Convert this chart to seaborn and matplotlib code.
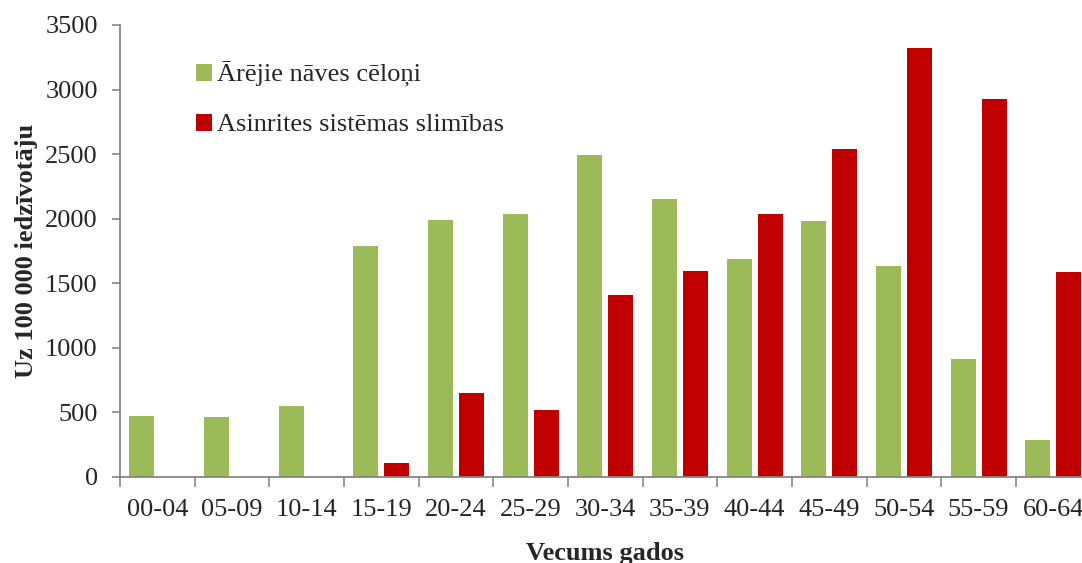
import numpy as np
import pandas as pd
import matplotlib
matplotlib.use("Agg")
import matplotlib.pyplot as plt
import seaborn as sns
from matplotlib.ticker import FixedLocator, NullFormatter

# Age groups and death rates per 100 000 inhabitants
age_groups = ["00-04", "05-09", "10-14", "15-19", "20-24", "25-29", "30-34",
              "35-39", "40-44", "45-49", "50-54", "55-59", "60-64"]
external_causes = [470, 465, 550, 1785, 1990, 2035, 2490, 2150, 1685, 1985, 1635, 910, 290]
circulatory = [0, 0, 0, 110, 650, 520, 1410, 1595, 2040, 2540, 3320, 2925, 1585]
series_names = ["Ārējie nāves cēloņi", "Asinrites sistēmas slimības"]
colors = ["#9BBB59", "#C00000"]
y_ticks = [0, 500, 1000, 1500, 2000, 2500, 3000, 3500]

df = pd.DataFrame({
    "group": age_groups * 2,
    "value": external_causes + circulatory,
    "series": [series_names[0]] * len(age_groups) + [series_names[1]] * len(age_groups),
})

sns.set_theme(style="white")
plt.rcParams["font.family"] = ["Liberation Serif", "DejaVu Serif"]

fig = plt.figure(figsize=(10.82, 5.63), dpi=100)
ax = fig.add_axes([0.1109, 0.1528, 0.897, 0.8028])

sns.barplot(data=df, x="group", y="value", hue="series", order=age_groups,
            hue_order=series_names, palette=colors, saturation=1,
            width=0.832, gap=0.195, linewidth=0, ax=ax, legend=True)

ax.set_ylim(0, 3500)
ax.set_xlim(-0.5, len(age_groups) - 0.5)
ax.set_yticks(y_ticks)
ax.set_yticklabels([str(t) for t in y_ticks], fontsize=19)

# category labels centred, tick marks on category boundaries
ax.xaxis.set_major_locator(FixedLocator(np.arange(-0.5, len(age_groups), 1.0)))
ax.xaxis.set_major_formatter(NullFormatter())
ax.xaxis.set_minor_locator(FixedLocator(np.arange(len(age_groups))))
ax.set_xticklabels(age_groups, minor=True, fontsize=19)
ax.tick_params(axis="x", which="major", direction="out", length=7, width=1.2,
               color="#868686", bottom=True)
ax.tick_params(axis="x", which="minor", length=0, pad=16, bottom=True)
ax.tick_params(axis="y", direction="out", length=6, width=1.2, color="#868686",
               pad=10, left=True)

for side in ["top", "right"]:
    ax.spines[side].set_visible(False)
for side in ["left", "bottom"]:
    ax.spines[side].set_color("#868686")
    ax.spines[side].set_linewidth(1.3)

ax.set_xlabel("Vecums gados", fontsize=19, fontweight="bold", labelpad=15)
ax.set_ylabel("Uz 100 000 iedzīvotāju", fontsize=19, fontweight="bold", labelpad=5)

leg = ax.legend(loc="upper left", bbox_to_anchor=(0.0535, 0.971), frameon=False,
                fontsize=19, handlelength=0.6, handleheight=0.6,
                handletextpad=0.2, labelspacing=1.0)

fig.savefig("out.png", dpi=100)
